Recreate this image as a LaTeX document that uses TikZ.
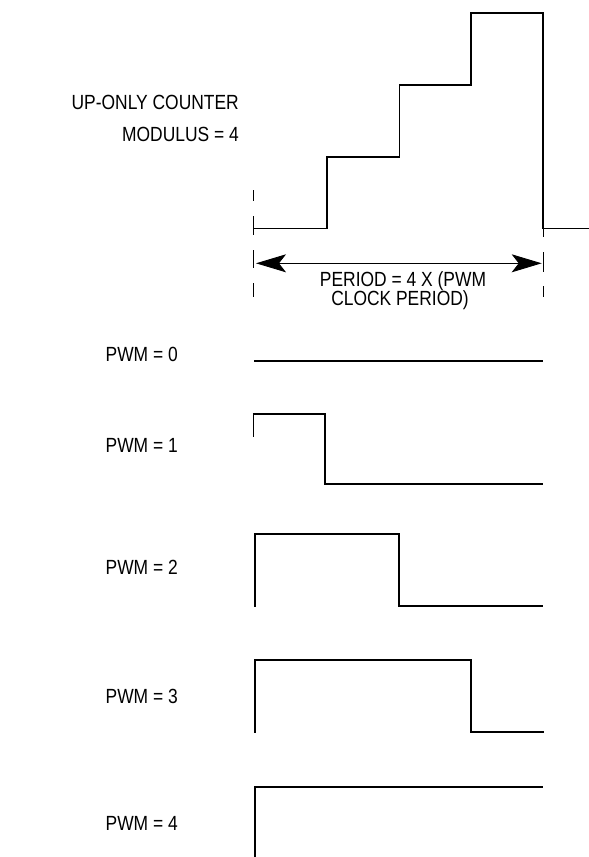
\documentclass[tikz,border=0pt]{standalone}
\usepackage{fontspec}
\setmainfont{Liberation Sans}[FakeStretch=0.85]
\usetikzlibrary{arrows.meta}
\begin{document}
\begin{tikzpicture}[x=1pt,y=-1pt,
  lbl/.style={inner sep=0pt,font=\fontsize{20.5}{22}\selectfont},
  stair/.style={line width=1.6pt,line join=miter},
  wave/.style={line width=2.1pt,line join=miter},
  guide/.style={line width=0.8pt},
  bigtip/.style={Stealth[length=30pt,width=18pt,inset=7pt]}]
\useasboundingbox (0,0) rectangle (589,857);

% labels
\node[lbl,anchor=base east] (up) at (239,109.3) {UP-ONLY COUNTER};
\node[lbl,anchor=base east] (mod) at (239,141.7) {MODULUS = 4};
\node[lbl,anchor=base,text depth=0pt] (per1) at (403,286.5) {PERIOD = 4 X (PWM};
\node[lbl,anchor=base,text height=14.7pt] (per2) at (400,305.2) {CLOCK PERIOD)};
\node[lbl,anchor=base east] (p0) at (178,361.7) {PWM = 0};
\node[lbl,anchor=base east] (p1) at (178,452.7) {PWM = 1};
\node[lbl,anchor=base east] (p2) at (178,574) {PWM = 2};
\node[lbl,anchor=base east] (p3) at (178,703) {PWM = 3};
\node[lbl,anchor=base east] (p4) at (178,830.7) {PWM = 4};

% counter staircase
\draw[stair] (253.3,228.3) -- (326.7,228.3) -- (326.7,156.7) -- (399.3,156.7)
  -- (399.3,85) -- (470.7,85) -- (470.7,12.7) -- (542.7,12.7) -- (542.7,228.3) -- (589,228.3);

% dashed guides
\foreach \a/\b in {190/201,216/235,250/268,283/297}
  \draw[guide] (253.3,\a) -- (253.3,\b);
\foreach \a/\b in {228/237,252/272,286/297}
  \draw[guide] (542.9,\a) -- (542.9,\b);

% period arrow
\coordinate (aL) at (256,263.3);
\coordinate (aR) at (541.7,263.3);
\draw[line width=0.9pt,{Stealth[length=30pt,width=18pt,inset=7pt]}-{Stealth[length=30pt,width=18pt,inset=7pt]}] (aL) -- (aR);

% PWM waveforms
\draw[wave] (254,360.7) -- (543,360.7);
\draw[line width=1pt] (253.3,436.7) -- (253.3,414);
\draw[wave] (252.8,414) -- (325.3,414) -- (325.3,484) -- (543,484);
\draw[wave] (255,606.7) -- (255,533.7) -- (399,533.7) -- (399,606) -- (543,606);
\draw[wave] (255,732.7) -- (255,660) -- (471,660) -- (471,732) -- (543.7,732);
\draw[wave] (255,857) -- (255,786.7) -- (543,786.7);
\end{tikzpicture}
\end{document}
